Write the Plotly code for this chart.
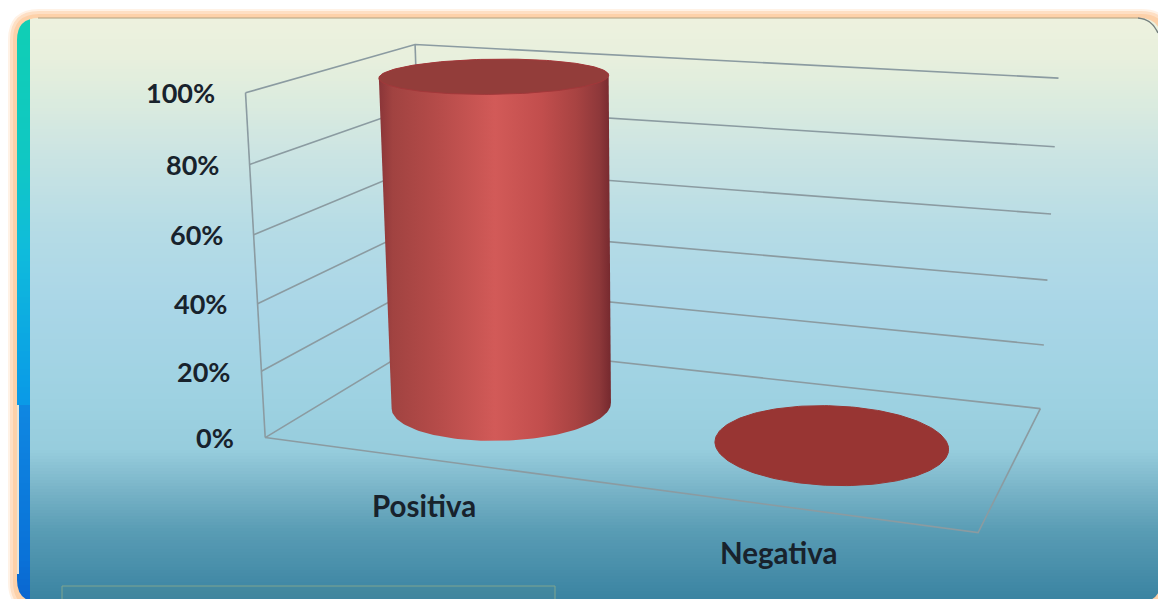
import numpy as np
import plotly.graph_objects as go

W, H = 1158, 599

# ---- chart data
categories = ["Positiva", "Negativa"]
values = [100, 0]
tick_values = [0, 20, 40, 60, 80, 100]
tick_labels = ["0%", "20%", "40%", "60%", "80%", "100%"]

# ---- the 3-D frame as the picture shows it: (category pos, depth, percent) -> pixel.
# A pinhole matrix is solved from these so that all marks come from data values.
FRAME_3D = np.array([
    [0, 0, 0], [1, 0, 0], [1, 1, 0], [0, 1, 0],
    [0, 0, 20], [0, 0, 40], [0, 0, 60], [0, 0, 80], [0, 0, 100],
    [0, 1, 100],
    [1, 1, 20], [1, 1, 40], [1, 1, 60], [1, 1, 80], [1, 1, 100]], float)
FRAME_PX = np.array([
    [265, 438], [978, 532], [1040, 408], [425, 340],
    [261, 372], [258, 304], [254, 234], [250, 164], [245, 93],
    [415, 45],
    [1044, 346], [1048, 281], [1051, 214], [1055, 146], [1058, 78]], float)


def solve_camera(p3, p2):
    rows = []
    s = np.array([1, 1, 0.01])
    for (a, b), q in zip(p2, p3 * s):
        h = np.r_[q, 1]
        rows.append(np.r_[h, np.zeros(4), -a * h])
        rows.append(np.r_[np.zeros(4), h, -b * h])
    vt = np.linalg.svd(np.array(rows))[2]
    return vt[-1].reshape(3, 4), s


CAM, CAM_S = solve_camera(FRAME_3D, FRAME_PX)


def project(x, y, z):
    x, y, z = np.broadcast_arrays(np.asarray(x, float), np.asarray(y, float), np.asarray(z, float))
    q = np.c_[x * CAM_S[0], y * CAM_S[1], z * CAM_S[2], np.ones(x.shape)]
    m = q @ CAM.T
    return m[:, 0] / m[:, 2], m[:, 1] / m[:, 2]


def hull(px, py):
    pts = sorted(set(zip(np.round(px, 2).tolist(), np.round(py, 2).tolist())))

    def half(seq):
        out = []
        for p in seq:
            while len(out) > 1 and ((out[-1][0] - out[-2][0]) * (p[1] - out[-2][1]) -
                                    (out[-1][1] - out[-2][1]) * (p[0] - out[-2][0])) <= 0:
                out.pop()
            out.append(p)
        return out[:-1]

    h = half(pts) + half(pts[::-1])
    h.append(h[0])
    return [p[0] for p in h], [p[1] for p in h]


def hex_mix(stops, y):
    ys, cols = zip(*stops)
    rgb = [np.interp(y, ys, [int(c[i:i + 2], 16) for c in cols]) for i in (1, 3, 5)]
    return "rgb(%d,%d,%d)" % tuple(rgb)


def mask(l, t, r, b, rad, color):
    # page rectangle with a rounded hole (opposite winding)
    hole = (f"M{l},{t + rad} L{l},{b - rad} Q{l},{b} {l + rad},{b} L{r - rad},{b} Q{r},{b} {r},{b - rad} "
            f"L{r},{t + rad} Q{r},{t} {r - rad},{t} L{l + rad},{t} Q{l},{t} {l},{t + rad} Z")
    return dict(type="path", path=f"M-30,-30 L{W + 30},-30 L{W + 30},{H + 30} L-30,{H + 30} Z " + hole,
                fillcolor=color, line=dict(width=0), layer="below", xref="x", yref="y")


# ---- background
BG_STOPS = [(18, "#eef2df"), (60, "#e8f0dd"), (100, "#dcecdf"), (150, "#cde5e3"), (230, "#b6dce6"),
            (300, "#abd7e8"), (400, "#9ed2e2"), (450, "#97cddd"), (490, "#79b4c8"), (530, "#5a9db5"), (599, "#3b84a2")]
STRIPE_STOPS = [(18, "#10cfb5"), (160, "#10c8c4"), (250, "#10bcdc"), (403, "#0a9ae8"), (404, "#1088e2"),
                (560, "#0a72d8"), (599, "#0a66d0")]
shapes = []
for y0 in range(15, H, 3):
    shapes.append(dict(type="rect", x0=15, x1=W + 5, y0=y0, y1=y0 + 4, layer="below", xref="x", yref="y",
                       fillcolor=hex_mix(BG_STOPS, y0 + 1.5), line=dict(width=0)))
for y0 in range(15, H, 6):
    shapes.append(dict(type="rect", x0=15, x1=30, y0=y0, y1=y0 + 7, layer="below", xref="x", yref="y",
                       fillcolor=hex_mix(STRIPE_STOPS, y0 + 3), line=dict(width=0)))
shapes.append(dict(type="rect", x0=17, x1=19, y0=405, y1=574, layer="below", xref="x", yref="y",
                   fillcolor="#e6e4da", line=dict(width=0)))
shapes.append(dict(type="rect", x0=62, x1=555, y0=586, y1=H + 5, layer="below", xref="x", yref="y",
                   fillcolor="rgba(95,145,135,0.16)", line=dict(color="#7fa58f", width=1)))
shapes.append(mask(17, 18, W + 3, H + 3, 22, "#fdd1a9"))
shapes.append(mask(13, 14, W + 9, H + 9, 26, "#fedfc4"))
shapes.append(mask(10, 11, W + 12, H + 12, 29, "#fff2e6"))
shapes.append(mask(8, 9, W + 14, H + 14, 31, "#ffffff"))
shapes.append(dict(type="path", path=f"M38,18 L{W - 20},18", layer="below", xref="x", yref="y",
                   line=dict(color="#b0a080", width=1)))
shapes.append(dict(type="path", path=f"M{W - 20},18 Q{W - 6},19 {W},33", layer="below", xref="x", yref="y",
                   line=dict(color="#75807f", width=1.5)))

fig = go.Figure()
GRID = dict(color="#8b9ba1", width=1.6)


def add_line(x, y, z):
    px, py = project(x, y, z)
    fig.add_trace(go.Scatter(x=px, y=py, mode="lines", line=GRID, hoverinfo="skip", showlegend=False))


for t in tick_values:
    add_line([0, 0, 1], [0, 1, 1], [t, t, t])
add_line([0, 1, 1], [0, 0, 1], [0, 0, 0])
add_line([0, 0], [0, 0], [tick_values[0], tick_values[-1]])
add_line([0, 0], [1, 1], [tick_values[0], tick_values[-1]])

# ---- cylinders
bar_x = [0.25, 0.75]
bar_y = 0.5
rx, ry = 0.161, 0.325
theta = np.linspace(0, 2 * np.pi, 181)
SIDE = [[0, "#8a3538"], [0.06, "#a14341"], [0.25, "#b54b49"], [0.5, "#d25a58"], [0.7, "#c24e4d"],
        [0.85, "#a84342"], [0.95, "#8e383a"], [1, "#75292e"]]
CAP_TOP = "#933d3a"
CAP_FLOOR = "#983533"
for cx, v in zip(bar_x, values):
    ex, ey = cx + rx * np.cos(theta), bar_y + ry * np.sin(theta)
    bx, by = project(ex, ey, 0)
    tx, ty = project(ex, ey, v)
    if v > 0:
        sx, sy = hull(np.r_[bx, tx], np.r_[by, ty])
        fig.add_trace(go.Scatter(x=sx, y=sy, mode="lines", fill="toself", line=dict(width=0), hoverinfo="skip",
                                 showlegend=False,
                                 fillgradient=dict(type="horizontal", colorscale=SIDE, start=min(sx), stop=max(sx))))
    fig.add_trace(go.Scatter(x=tx, y=ty, mode="lines", fill="toself", fillcolor=CAP_TOP if v > 0 else CAP_FLOOR,
                             line=dict(width=1, color="#a2383a" if v > 0 else CAP_FLOOR),
                             hoverinfo="skip", showlegend=False))

# ---- text
TEXT = "#18222c"
ann = []
for t, l in zip(tick_values, tick_labels):
    px, py = project(0, 0, t)
    ann.append(dict(x=float(px[0]), y=float(py[0]), text=f"<b>{l}</b>", showarrow=False, xanchor="right", yanchor="middle",
                    xshift=-29, font=dict(family="Lato", size=27, color=TEXT)))
for cx, l in zip(bar_x, categories):
    px, py = project(cx, 0, 0)
    ann.append(dict(x=float(px[0]), y=float(py[0]), text=f"<b>{l}</b>", showarrow=False, xanchor="center", yanchor="middle",
                    xshift=-2, yshift=-46, font=dict(family="Lato", size=29.5, color=TEXT)))

fig.update_layout(width=W, height=H, margin=dict(l=0, r=0, t=0, b=0), paper_bgcolor="white", plot_bgcolor="rgba(0,0,0,0)",
                  xaxis=dict(range=[0, W], visible=False, fixedrange=True),
                  yaxis=dict(range=[H, 0], visible=False, fixedrange=True),
                  shapes=shapes, annotations=ann)
fig.write_html("out.html", config=dict(displayModeBar=False),
               post_script="document.body.style.margin='0';document.body.style.overflow='hidden';")
